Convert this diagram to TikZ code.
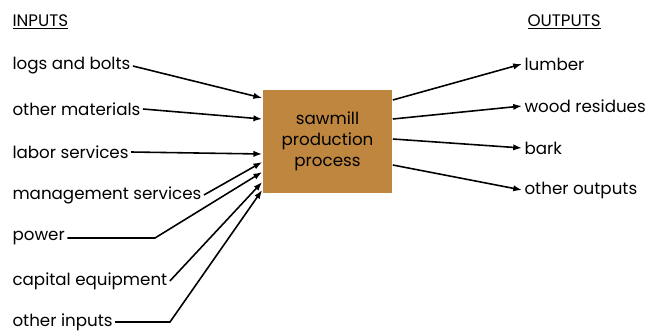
\documentclass[tikz,border=0pt]{standalone}
\usepackage{fontspec}
\setmainfont{Poppins}
\usepackage{xcolor}
\usetikzlibrary{positioning, arrows.meta, calc}
\definecolor{millbrown}{RGB}{190,134,62}

\begin{document}
\begin{tikzpicture}[
    line width=0.9pt,
    >={Latex[length=5pt,width=3.6pt]},
    process/.style={rectangle, fill=millbrown, minimum width=2.58cm, minimum height=2.06cm, align=center, font=\fontsize{9.5}{12}\selectfont},
    item/.style={anchor=west, inner sep=1pt, font=\fontsize{9.5}{12}\selectfont},
    heading/.style={anchor=west, inner sep=1pt, font=\fontsize{9.5}{12}\selectfont}
]
    \useasboundingbox (0,0) rectangle (13,6.66);

    % Process box
    \node[process] (mill) at (6.55,3.83) {sawmill\\production\\process};

    % Inputs
    \node[heading] (inhead) at (0.2,6.22) {\underline{INPUTS}};
    \node[item] (logs) at (0.2,5.34) {logs and bolts};
    \node[item] (othmat) at (0.2,4.48) {other materials};
    \node[item] (labor) at (0.2,3.62) {labor services};
    \node[item] (mgmt) at (0.2,2.76) {management services};
    \node[item] (power) at (0.2,1.90) {power};
    \node[item] (capital) at (0.2,1.04) {capital equipment};
    \node[item] (othin) at (0.2,0.22) {other inputs};

    % Outputs
    \node[heading] (outhead) at (10.5,6.22) {\underline{OUTPUTS}};
    \node[item] (lumber) at (10.44,5.38) {lumber};
    \node[item] (residue) at (10.44,4.54) {wood residues};
    \node[item] (bark) at (10.44,3.70) {bark};
    \node[item] (othout) at (10.44,2.86) {other outputs};

    % Knees of the lower input lines
    \coordinate (powerknee) at (power.east -| 3.1,0);
    \coordinate (othinknee) at (othin.east -| 3.4,0);

    % Input connections
    \draw[->] (logs.east) -- ([yshift=0.87cm]mill.west);
    \draw[->] (othmat.east) -- ([yshift=0.45cm]mill.west);
    \draw[->] (labor.east) -- ([yshift=-0.25cm]mill.west);
    \draw[->] (mgmt.east) -- ([yshift=-0.41cm]mill.west);
    \draw[->] (power.east) -- (powerknee) -- ([yshift=-0.61cm]mill.west);
    \draw[->] (capital.east) -- ([yshift=-0.81cm]mill.west);
    \draw[->] (othin.east) -- (othinknee) -- ([yshift=-0.97cm]mill.west);

    % Output connections
    \draw[->] ([yshift=0.83cm]mill.east) -- (lumber.west);
    \draw[->] ([yshift=0.45cm]mill.east) -- (residue.west);
    \draw[->] ([yshift=0.05cm]mill.east) -- (bark.west);
    \draw[->] ([yshift=-0.47cm]mill.east) -- (othout.west);

\end{tikzpicture}
\end{document}
